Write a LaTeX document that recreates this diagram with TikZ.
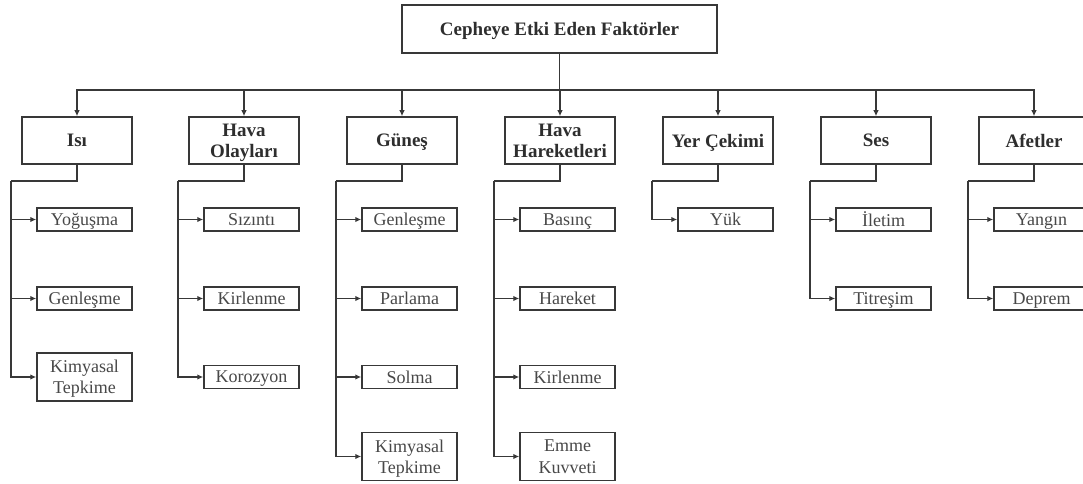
\documentclass[tikz,border=0pt]{standalone}
\usepackage{fontspec}
\setmainfont{Liberation Serif}
\usetikzlibrary{arrows.meta}
\definecolor{ln}{HTML}{383838}
\definecolor{tx}{HTML}{2E2E2E}
\definecolor{tl}{HTML}{484848}
\begin{document}
\begin{tikzpicture}[x=1pt,y=-1pt,
  box/.style={draw=ln, line width=1.5pt, fill=white, inner sep=0pt, align=center, text depth=0pt},
  cat/.style={box, text=tx, minimum width=110pt, minimum height=47pt, font=\fontsize{19}{21}\selectfont\bfseries},
  leaf/.style={box, text=tl, minimum width=95pt, minimum height=23pt, font=\fontsize{18}{21.5}\selectfont},
  leaftwo/.style={leaf, minimum height=48pt},
  conn/.style={draw=ln, line width=1.5pt},
  arr/.style={conn, -{Latex[length=6pt,width=5.5pt]}}]
\useasboundingbox (0,0) rectangle (1083,484);
\clip (0,0) rectangle (1083,484);
% root
\node[box, text=tx, minimum width=315pt, minimum height=48pt, font=\fontsize{19}{21}\selectfont\bfseries] (top) at (559.5,29) {Cepheye Etki Eden Faktörler};
\coordinate (bus) at (559.5,90);
% categories
\node[cat] (c1) at (77,140.5) {Isı};
\node[cat] (c2) at (244,140.5) {Hava\\Olayları};
\node[cat] (c3) at (402,140.5) {Güneş};
\node[cat] (c4) at (560,140.5) {Hava\\Hareketleri};
\node[cat] (c5) at (718,140.5) {Yer Çekimi};
\node[cat] (c6) at (876,140.5) {Ses};
\node[cat] (c7) at (1034,140.5) {Afetler};
\foreach \i in {1,...,7} \draw[arr] (top.south) -- (bus) -| (c\i.north);
% branch points
\coordinate (b1) at (11,181);
\coordinate (b2) at (178,181);
\coordinate (b3) at (336,181);
\coordinate (b4) at (494,181);
\coordinate (b5) at (652,181);
\coordinate (b6) at (810,181);
\coordinate (b7) at (968,181);
\foreach \i in {1,...,7} \draw[conn] (c\i.south) |- (b\i);
% leaves: Isı
\node[leaf] (c1-1) at (84.5,219.5) {Yoğuşma};
\node[leaf] (c1-2) at (84.5,298.5) {Genleşme};
\node[leaftwo] (c1-3) at (84.5,377) {Kimyasal\\Tepkime};
% Hava Olayları
\node[leaf] (c2-1) at (251.5,219.5) {Sızıntı};
\node[leaf] (c2-2) at (251.5,298.5) {Kirlenme};
\node[leaf] (c2-3) at (251.5,377) {Korozyon};
% Güneş
\node[leaf] (c3-1) at (409.5,219.5) {Genleşme};
\node[leaf] (c3-2) at (409.5,298.5) {Parlama};
\node[leaf] (c3-3) at (409.5,377) {Solma};
\node[leaftwo] (c3-4) at (409.5,456.5) {Kimyasal\\Tepkime};
% Hava Hareketleri
\node[leaf] (c4-1) at (567.5,219.5) {Basınç};
\node[leaf] (c4-2) at (567.5,298.5) {Hareket};
\node[leaf] (c4-3) at (567.5,377) {Kirlenme};
\node[leaftwo] (c4-4) at (567.5,456.5) {Emme\\Kuvveti};
% Yer Çekimi
\node[leaf] (c5-1) at (725.5,219.5) {Yük};
% Ses
\node[leaf] (c6-1) at (883.5,219.5) {İletim};
\node[leaf] (c6-2) at (883.5,298.5) {Titreşim};
% Afetler
\node[leaf] (c7-1) at (1041.5,219.5) {Yangın};
\node[leaf] (c7-2) at (1041.5,298.5) {Deprem};
% connectors to leaves
\foreach \j in {1,2,3} \draw[arr] (b1) |- (c1-\j.west);
\foreach \j in {1,2,3} \draw[arr] (b2) |- (c2-\j.west);
\foreach \j in {1,2,3,4} \draw[arr] (b3) |- (c3-\j.west);
\foreach \j in {1,2,3,4} \draw[arr] (b4) |- (c4-\j.west);
\draw[arr] (b5) |- (c5-1.west);
\foreach \j in {1,2} \draw[arr] (b6) |- (c6-\j.west);
\foreach \j in {1,2} \draw[arr] (b7) |- (c7-\j.west);
\end{tikzpicture}
\end{document}
